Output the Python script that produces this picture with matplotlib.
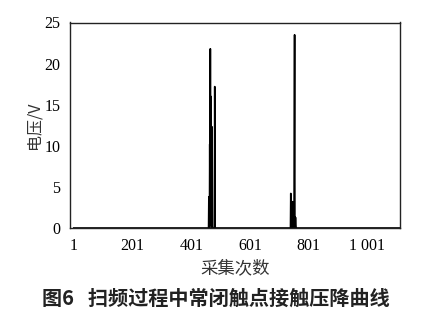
import numpy as np
import matplotlib
matplotlib.use("Agg")
import matplotlib.pyplot as plt

# ---- data ----
n_samples = 1110
spike_idx = [459, 461, 462, 464, 465, 466, 467, 468, 469, 472, 473, 480, 481, 488,
             738, 740, 743, 746, 748, 752, 753, 754, 756, 757, 760]
spike_val = [0.0, 3.8, 0.2, 10.2, 0.5, 21.8, 0.4, 16.0, 0.3, 12.3, 0.2, 0.0, 17.2, 0.0,
             0.0, 4.2, 0.3, 3.2, 0.2, 12.8, 23.5, 0.5, 1.3, 0.4, 0.0]
xticks = [1, 201, 401, 601, 801, 1001]
xticklabels = ["1", "201", "401", "601", "801", "1 001"]
yticks = [0, 5, 10, 15, 20, 25]

x = np.arange(1, n_samples + 1)
y = np.zeros(n_samples)
for i, v in zip(spike_idx, spike_val):
    y[i - 1] = v

fig = plt.figure(figsize=(4.31, 3.14), dpi=100)
ax = fig.add_axes([70/431, 1 - 228/314, 330/431, 205.5/314])
ax.plot(x, y, color="black", lw=1.2)
ax.set_xlim(-12, 1112)
ax.set_ylim(0, 25)
ax.set_xticks(xticks)
ax.set_xticklabels(xticklabels)
ax.set_yticks(yticks)
ax.tick_params(length=0, labelsize=11.5, colors="black")
ax.tick_params(axis="y", pad=7)
ax.tick_params(axis="x", pad=7)
for lab in ax.get_xticklabels() + ax.get_yticklabels():
    lab.set_family("Liberation Serif")
for s in ax.spines.values():
    s.set_linewidth(1.0)
    s.set_color("#222222")

cjk = ["Noto Sans CJK SC", "DejaVu Sans"]
ax.set_ylabel("电压/V", family=cjk, fontsize=11.5, labelpad=1, color="#333333")
ax.set_xlabel("采集次数", family=cjk, fontsize=12.5, labelpad=4, color="#333333")
fig.text(0.5, 1 - 298/314, "图6   扫频过程中常闭触点接触压降曲线", family=cjk,
         fontsize=14.5, weight="bold", ha="center", va="center", color="#222222")

fig.savefig("out.png", dpi=100)
